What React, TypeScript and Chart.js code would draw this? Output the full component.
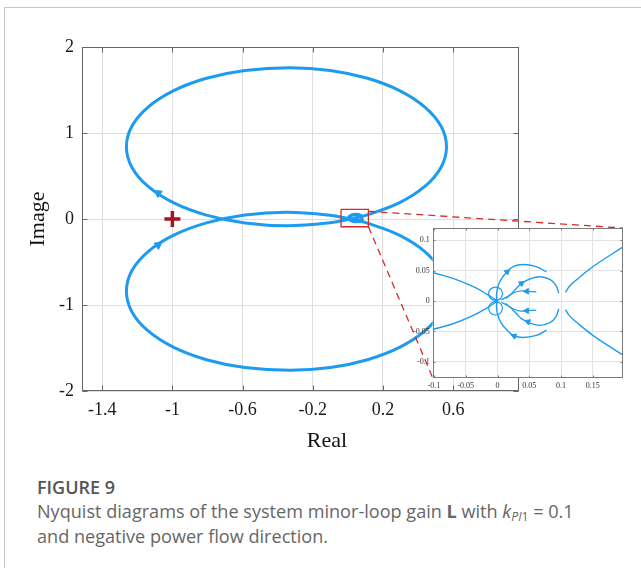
import React, { useEffect, useRef } from "react";
import { Chart, registerables } from "chart.js";

Chart.register(...registerables);

// ---------------- Main Nyquist plot (Real / Image) ----------------
const UPPER_RE = [0.035, -0.114, -0.35, -0.586, -0.806, -0.995, -1.14, -1.231, -1.262, -1.231, -1.14, -0.995, -0.806, -0.586, -0.33, -0.1, 0.112, 0.297, 0.44, 0.531, 0.562, 0.531, 0.44, 0.295, 0.106, 0.035];
const UPPER_IM = [0.0075, -0.047, -0.079, -0.047, 0.045, 0.19, 0.381, 0.602, 0.84, 1.078, 1.299, 1.49, 1.636, 1.727, 1.759, 1.727, 1.636, 1.49, 1.299, 1.078, 0.84, 0.602, 0.381, 0.19, 0.045, 0.0075];
const LOWER_RE = [0.035, -0.114, -0.35, -0.586, -0.806, -0.995, -1.14, -1.231, -1.262, -1.231, -1.14, -0.995, -0.806, -0.586, -0.33, -0.1, 0.112, 0.297, 0.44, 0.531, 0.562, 0.531, 0.44, 0.295, 0.106, 0.035];
const LOWER_IM = [-0.0075, 0.047, 0.079, 0.047, -0.045, -0.19, -0.381, -0.602, -0.84, -1.078, -1.299, -1.49, -1.636, -1.727, -1.759, -1.727, -1.636, -1.49, -1.299, -1.078, -0.84, -0.602, -0.381, -0.19, -0.045, -0.0075];
const BLOB_RE = [0.085, 0.073, 0.045, 0.017, 0.005, 0.017, 0.045, 0.073, 0.085];
const BLOB_IM = [0.012, 0.04, 0.052, 0.04, 0.012, -0.016, -0.028, -0.016, 0.012];
const MAIN_ARROW_RE = [-1.081, -1.081];
const MAIN_ARROW_IM = [0.302, -0.302];
const MAIN_ARROW_DIR = [-55, 55];
const CRIT_RE = [-1];
const CRIT_IM = [0];
const BOX_RE = [-0.039, 0.117, 0.117, -0.039, -0.039];
const BOX_IM = [0.113, 0.113, -0.09, -0.09, 0.113];
const MAIN_X_TICKS = [-1.4, -1, -0.6, -0.2, 0.2, 0.6];
const MAIN_Y_TICKS = [-2, -1, 0, 1, 2];
const MAIN_X_RANGE = [-1.515, 0.975];
const MAIN_Y_RANGE = [-2, 2];

// ---------------- Inset (zoom near origin) ----------------
const IN_LEFT_RE = [-0.102, -0.07, -0.038, -0.017, -0.004, 0];
const IN_LEFT_UP_IM = [0.0468, 0.0373, 0.0235, 0.0115, 0.0028, 0];
const IN_LEFT_DN_IM = [-0.0468, -0.0373, -0.0235, -0.0115, -0.0028, 0];
const IN_RIGHT_RE = [0.107, 0.113, 0.124, 0.15, 0.197];
const IN_RIGHT_UP_IM = [0.0143, 0.024, 0.0345, 0.0564, 0.0885];
const IN_RIGHT_DN_IM = [-0.0143, -0.024, -0.0345, -0.0564, -0.0885];
const IN_OUTER_RE = [0.077, 0.061, 0.04, 0.0246, 0.0152, 0.0063, 0.0005, -0.0016, -0.001, -0.0016, 0.0005, 0.0063, 0.0152, 0.0246, 0.04, 0.061, 0.077];
const IN_OUTER_IM = [0.048, 0.0565, 0.06, 0.0565, 0.048, 0.037, 0.0236, 0.0099, 0, -0.0099, -0.0236, -0.037, -0.048, -0.0565, -0.06, -0.0565, -0.048];
const IN_MID_RE = [0.006, 0.0194, 0.0299, 0.0377, 0.0508, 0.0666, 0.0823, 0.0917, 0.0964];
const IN_MID_UP_IM = [0.002, 0.0099, 0.0208, 0.029, 0.0362, 0.04, 0.0356, 0.0263, 0.0126];
const IN_MID_DN_IM = [-0.002, -0.0099, -0.0208, -0.029, -0.0362, -0.04, -0.0356, -0.0263, -0.0126];
const IN_LOOP_RE = [0.008, 0.0048, -0.003, -0.0108, -0.014, -0.0108, -0.003, 0.0048, 0.008];
const IN_LOOP_UP_IM = [0.012, 0.0198, 0.023, 0.0198, 0.012, 0.0042, 0.001, 0.0042, 0.012];
const IN_LOOP_DN_IM = [-0.012, -0.0198, -0.023, -0.0198, -0.012, -0.0042, -0.001, -0.0042, -0.012];
const IN_HOOK_RE = [0.013, 0.02, 0.027, 0.036, 0.046, 0.061];
const IN_HOOK_UP_IM = [0.004, 0.01, 0.014, 0.0165, 0.016, 0.015];
const IN_HOOK_DN_IM = [-0.004, -0.01, -0.014, -0.0165, -0.016, -0.015];
const IN_ARROW_RE = [0.0152, 0.0262, 0.0377, 0.048, 0.046, 0.046];
const IN_ARROW_IM = [0.048, -0.0576, 0.029, -0.034, 0.016, -0.016];
const IN_ARROW_DIR = [50, -72, 55, -67, -90, -90];
const IN_X_TICKS = [-0.1, -0.05, 0, 0.05, 0.1, 0.15];
const IN_Y_TICKS = [-0.1, -0.05, 0, 0.05, 0.1];
const IN_X_RANGE = [-0.102, 0.197];
const IN_Y_RANGE = [-0.126, 0.12];

const BLUE = "#1d9bf0";
const RED = "#d62b2b";
const SERIF = '"Liberation Serif", "Times New Roman", serif';

const pts = (re: number[], im: number[]) => re.map((x, i) => ({ x, y: im[i] }));

const curve = (re: number[], im: number[], width: number) => ({
  data: pts(re, im),
  showLine: true,
  borderColor: BLUE,
  backgroundColor: BLUE,
  borderWidth: width,
  pointRadius: 0,
  tension: 0.4,
  order: 2,
});

const innerTicks = (chart: any, len: number, color: string) => {
  const { ctx, chartArea: a, scales } = chart;
  const sx = scales.x;
  const sy = scales.y;
  ctx.save();
  ctx.strokeStyle = color;
  ctx.lineWidth = 1;
  const L = Math.round(a.left) + 0.5;
  const R = Math.round(a.right) - 0.5;
  const T = Math.round(a.top) + 0.5;
  const B = Math.round(a.bottom) - 0.5;
  ctx.beginPath();
  sx.ticks.forEach((t: any) => {
    const px = Math.round(sx.getPixelForValue(t.value)) + 0.5;
    ctx.moveTo(px, B);
    ctx.lineTo(px, B - len);
    ctx.moveTo(px, T);
    ctx.lineTo(px, T + len);
  });
  sy.ticks.forEach((t: any) => {
    const py = Math.round(sy.getPixelForValue(t.value)) + 0.5;
    ctx.moveTo(L, py);
    ctx.lineTo(L + len, py);
    ctx.moveTo(R, py);
    ctx.lineTo(R - len, py);
  });
  ctx.stroke();
  ctx.strokeRect(L, T, R - L, B - T);
  ctx.restore();
};

const MAIN_POS = { left: 0, top: 0, width: 641, height: 462 };
const INSET_POS = { left: 390, top: 218, width: 245, height: 182 };

export default function App() {
  const mainRef = useRef<HTMLCanvasElement | null>(null);
  const insetRef = useRef<HTMLCanvasElement | null>(null);

  useEffect(() => {
    if (!mainRef.current || !insetRef.current) return;

    const inset = new Chart(insetRef.current, {
      type: "scatter",
      data: {
        datasets: [
          {
            data: pts(IN_ARROW_RE, IN_ARROW_IM),
            pointStyle: "triangle",
            pointRadius: 3.2,
            pointRotation: IN_ARROW_DIR,
            pointBackgroundColor: BLUE,
            pointBorderColor: BLUE,
            pointBorderWidth: 1,
            order: 1,
          } as any,
          curve(IN_LEFT_RE, IN_LEFT_UP_IM, 1.4),
          curve(IN_LEFT_RE, IN_LEFT_DN_IM, 1.4),
          curve(IN_RIGHT_RE, IN_RIGHT_UP_IM, 1.4),
          curve(IN_RIGHT_RE, IN_RIGHT_DN_IM, 1.4),
          curve(IN_OUTER_RE, IN_OUTER_IM, 1.4),
          curve(IN_MID_RE, IN_MID_UP_IM, 1.4),
          curve(IN_MID_RE, IN_MID_DN_IM, 1.4),
          curve(IN_LOOP_RE, IN_LOOP_UP_IM, 1.2),
          curve(IN_LOOP_RE, IN_LOOP_DN_IM, 1.2),
          curve(IN_HOOK_RE, IN_HOOK_UP_IM, 1.2),
          curve(IN_HOOK_RE, IN_HOOK_DN_IM, 1.2),
        ],
      },
      options: {
        responsive: false,
        animation: false,
        events: [],
        layout: { padding: { left: 0, top: 10, right: 12.3, bottom: 0 } },
        plugins: { legend: { display: false }, tooltip: { enabled: false } },
        scales: {
          x: {
            type: "linear",
            min: IN_X_RANGE[0],
            max: IN_X_RANGE[1],
            afterFit: (s: any) => { s.height = 22.3; },
            afterBuildTicks: (s: any) => { s.ticks = IN_X_TICKS.map((v) => ({ value: v })); },
            grid: { color: "#e2e2e2", lineWidth: 1, drawTicks: false },
            border: { display: false },
            ticks: { padding: 3, color: "#333", font: { family: SERIF, size: 8 }, maxRotation: 0, autoSkip: false, callback: (v: any) => String(v) },
          },
          y: {
            type: "linear",
            min: IN_Y_RANGE[0],
            max: IN_Y_RANGE[1],
            afterFit: (s: any) => { s.width = 42.7; },
            afterBuildTicks: (s: any) => { s.ticks = IN_Y_TICKS.map((v) => ({ value: v })); },
            grid: { color: "#e2e2e2", lineWidth: 1, drawTicks: false },
            border: { display: false },
            ticks: { padding: 3, color: "#333", font: { family: SERIF, size: 8 }, autoSkip: false, callback: (v: any) => String(v) },
          },
        },
      } as any,
      plugins: [
        {
          id: "insetBg",
          beforeDraw(chart: any) {
            const { ctx, chartArea: a } = chart;
            ctx.save();
            ctx.fillStyle = "#ffffff";
            ctx.fillRect(a.left, a.top, a.right - a.left, a.bottom - a.top);
            ctx.restore();
          },
          afterDatasetsDraw(chart: any) {
            innerTicks(chart, 2, "#7a7a7a");
          },
        },
      ],
    });

    const main = new Chart(mainRef.current, {
      type: "scatter",
      data: {
        datasets: [
          {
            data: pts(BOX_RE, BOX_IM),
            showLine: true,
            borderColor: RED,
            borderWidth: 1.3,
            pointRadius: 0,
            tension: 0,
            order: 0,
          },
          {
            data: pts(CRIT_RE, CRIT_IM),
            pointStyle: "cross",
            pointRadius: 8,
            pointBorderWidth: 3.5,
            pointBorderColor: "#a5161c",
            order: 0,
          } as any,
          {
            data: pts(MAIN_ARROW_RE, MAIN_ARROW_IM),
            pointStyle: "triangle",
            pointRadius: 4.5,
            pointRotation: MAIN_ARROW_DIR,
            pointBackgroundColor: BLUE,
            pointBorderColor: BLUE,
            pointBorderWidth: 1,
            order: 1,
          } as any,
          curve(UPPER_RE, UPPER_IM, 3),
          curve(LOWER_RE, LOWER_IM, 3),
          curve(BLOB_RE, BLOB_IM, 3.5),
        ],
      },
      options: {
        responsive: false,
        animation: false,
        events: [],
        layout: { padding: { left: 0, top: 47, right: 122, bottom: 0 } },
        plugins: { legend: { display: false }, tooltip: { enabled: false } },
        scales: {
          x: {
            type: "linear",
            min: MAIN_X_RANGE[0],
            max: MAIN_X_RANGE[1],
            afterFit: (s: any) => { s.height = 71; },
            afterBuildTicks: (s: any) => { s.ticks = MAIN_X_TICKS.map((v) => ({ value: v })); },
            grid: { color: "#dedede", lineWidth: 1, drawTicks: false },
            border: { display: false },
            ticks: { padding: 8, color: "#1a1a1a", font: { family: SERIF, size: 18 }, maxRotation: 0, autoSkip: false, callback: (v: any) => String(v) },
          },
          y: {
            type: "linear",
            min: MAIN_Y_RANGE[0],
            max: MAIN_Y_RANGE[1],
            afterFit: (s: any) => { s.width = 82; },
            afterBuildTicks: (s: any) => { s.ticks = MAIN_Y_TICKS.map((v) => ({ value: v })); },
            grid: { color: "#dedede", lineWidth: 1, drawTicks: false },
            border: { display: false },
            ticks: { padding: 8, color: "#1a1a1a", font: { family: SERIF, size: 18 }, autoSkip: false, callback: (v: any) => String(v) },
          },
        },
      } as any,
      plugins: [
        {
          id: "mainDecor",
          afterDatasetsDraw(chart: any) {
            innerTicks(chart, 5, "#666666");
            const { ctx, scales } = chart;
            const sx = scales.x;
            const sy = scales.y;
            const ia = inset.chartArea;
            const ox = INSET_POS.left - MAIN_POS.left;
            const oy = INSET_POS.top - MAIN_POS.top;
            const bx = sx.getPixelForValue(BOX_RE[1]);
            const byTop = sy.getPixelForValue(BOX_IM[0]);
            const byBot = sy.getPixelForValue(BOX_IM[2]);
            ctx.save();
            ctx.strokeStyle = RED;
            ctx.lineWidth = 1.3;
            ctx.setLineDash([7, 5]);
            ctx.beginPath();
            ctx.moveTo(bx, byTop + 2);
            ctx.lineTo(ox + ia.right, oy + ia.top);
            ctx.moveTo(bx, byBot);
            ctx.lineTo(ox + ia.left, oy + ia.bottom);
            ctx.stroke();
            ctx.setLineDash([]);
            ctx.fillStyle = "#111";
            ctx.font = `22px ${SERIF}`;
            ctx.textAlign = "center";
            ctx.textBaseline = "middle";
            ctx.fillText("Real", 327, 441);
            ctx.translate(38, 219);
            ctx.rotate(-Math.PI / 2);
            ctx.fillText("Image", 0, 0);
            ctx.restore();
          },
        },
      ],
    });

    return () => {
      main.destroy();
      inset.destroy();
    };
  }, []);

  return (
    <div style={{ position: "absolute", left: 0, top: 0, width: 641, height: 568, overflow: "hidden", background: "#fff" }}>
      <div style={{ position: "absolute", left: 4, top: 7, width: 700, height: 700, border: "1px solid #c6c6c6" }} />
      <canvas ref={mainRef} width={MAIN_POS.width} height={MAIN_POS.height} style={{ position: "absolute", left: MAIN_POS.left, top: MAIN_POS.top }} />
      <canvas ref={insetRef} width={INSET_POS.width} height={INSET_POS.height} style={{ position: "absolute", left: INSET_POS.left, top: INSET_POS.top }} />
      <div style={{ position: "absolute", left: 37, top: 475, fontFamily: '"Open Sans", sans-serif', fontSize: 18, fontWeight: 600, color: "#555", lineHeight: "24px", whiteSpace: "nowrap" }}>
        FIGURE 9
      </div>
      <div style={{ position: "absolute", left: 37, top: 499.5, fontFamily: '"Open Sans", sans-serif', fontSize: 18.1, color: "#666", lineHeight: "23.5px", whiteSpace: "nowrap" }}>
        Nyquist diagrams of the system minor-loop gain <span style={{ fontWeight: 700 }}>L</span> with <i>k</i>
        <span style={{ fontSize: "0.68em", position: "relative", top: "0.3em" }}><i>PI</i>1</span> = 0.1
        <br />
        and negative power flow direction.
      </div>
    </div>
  );
}
